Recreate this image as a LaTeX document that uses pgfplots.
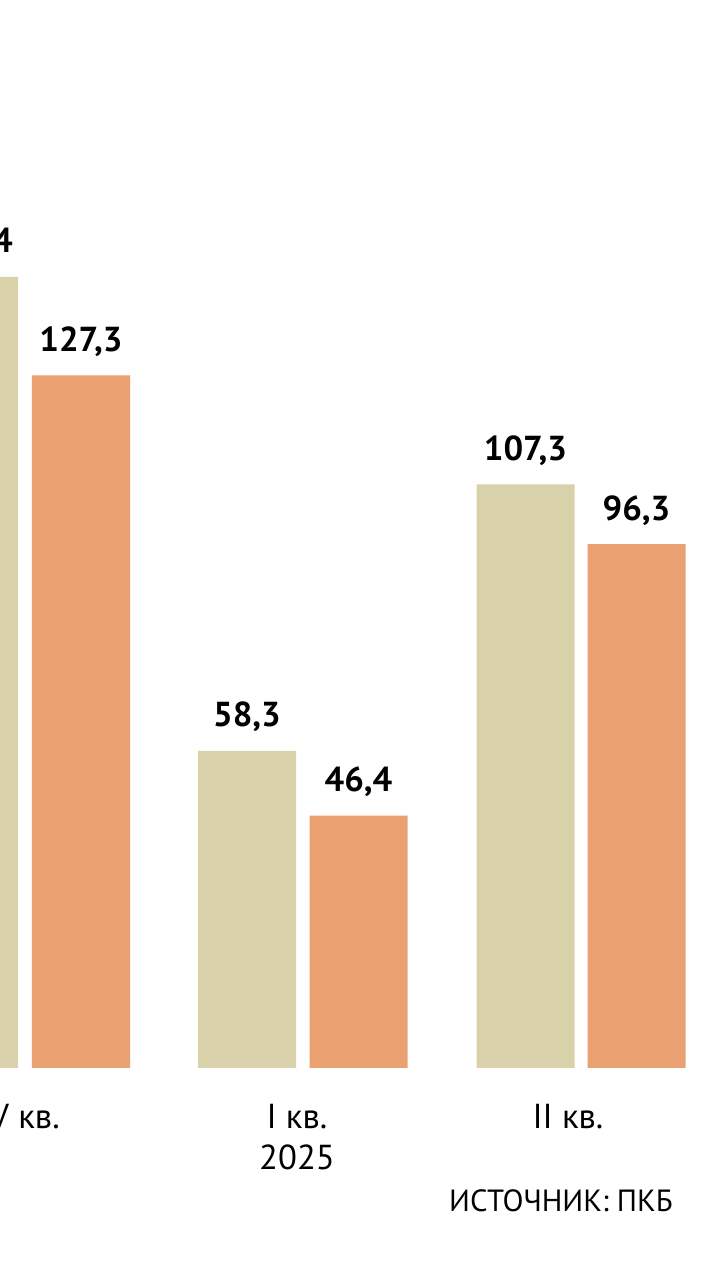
\documentclass[border=0pt]{standalone}
\usepackage{pgfplots}
\pgfplotsset{compat=1.18}
\usepackage{fontspec}
\setmainfont{PT Sans}

\definecolor{beige}{HTML}{D8D1AA}
\definecolor{peach}{HTML}{EBA072}

\begin{document}
\begin{tikzpicture}
  \path[use as bounding box] (0,0) rectangle (540pt,960pt);
  \clip (0,0) rectangle (540pt,960pt);
  \begin{axis}[
    at={(0,0)}, anchor=south west,
    scale only axis,
    width=540pt, height=960pt,
    xmin=0, xmax=720,
    ymin=-38.97, ymax=196.32,
    axis lines=none,
    ticks=none,
    clip=false,
    nodes near coords,
    nodes near coords style={
      font=\fontsize{26}{30}\selectfont\bfseries,
      anchor=base, yshift=18pt,
      /pgf/number format/.cd, use comma, fixed, fixed zerofill, precision=1,
      assume math mode=true,
    },
  ]
    % beige: previous year
    \addplot[ybar, bar width=73.5pt, bar shift=0pt, fill=beige, draw=none]
      coordinates {(-31,145.4) (247,58.3) (525.5,107.3)};
    % peach: current year
    \addplot[ybar, bar width=73.5pt, bar shift=0pt, fill=peach, draw=none]
      coordinates {(81,127.3) (358.5,46.4) (636.5,96.3)};

    \node[anchor=east, inner sep=0pt, font=\fontsize{26}{30}\selectfont] at (axis cs:60,-9.0) {IV кв.};
    \node[inner sep=0pt, font=\fontsize{26}{30}\selectfont] at (axis cs:297,-9.0) {I кв.};
    \node[inner sep=0pt, font=\fontsize{26}{30}\selectfont] at (axis cs:297,-16.5) {2025};
    \node[inner sep=0pt, font=\fontsize{26}{30}\selectfont] at (axis cs:568,-9.0) {II кв.};
    \node[anchor=east, inner sep=0pt, font=\fontsize{23}{27}\selectfont] at (axis cs:673,-24.45) {ИСТОЧНИК: ПКБ};
  \end{axis}
\end{tikzpicture}
\end{document}
